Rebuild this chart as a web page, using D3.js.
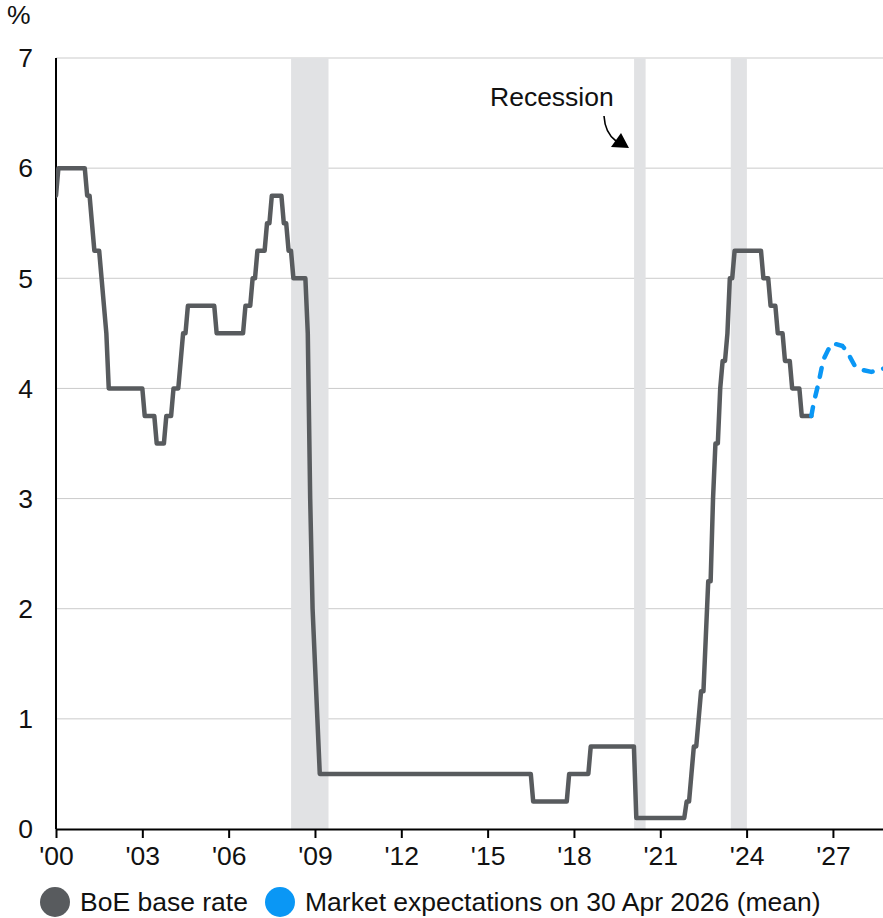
<!DOCTYPE html>
<html>
<head>
<meta charset="utf-8">
<script src="https://cdn.jsdelivr.net/npm/d3@7"></script>
<style>
  html, body { margin: 0; padding: 0; background: #ffffff; }
  svg { display: block; font-family: "Liberation Sans", Arial, Helvetica, sans-serif; }
</style>
</head>
<body>
<svg id="chart" width="883" height="918"></svg>
<script>
// ---------------- DATA ----------------
// BoE base rate, end-of-month values (%), one row per year, Jan..Dec
const rateYears = [2000, 2001, 2002, 2003, 2004, 2005, 2006, 2007, 2008, 2009, 2010, 2011, 2012, 2013,
                   2014, 2015, 2016, 2017, 2018, 2019, 2020, 2021, 2022, 2023, 2024, 2025, 2026];
const baseRate = [
  [5.75, 6, 6, 6, 6, 6, 6, 6, 6, 6, 6, 6],
  [6, 5.75, 5.75, 5.5, 5.25, 5.25, 5.25, 5, 4.75, 4.5, 4, 4],
  [4, 4, 4, 4, 4, 4, 4, 4, 4, 4, 4, 4],
  [4, 3.75, 3.75, 3.75, 3.75, 3.75, 3.5, 3.5, 3.5, 3.5, 3.75, 3.75],
  [3.75, 4, 4, 4, 4.25, 4.5, 4.5, 4.75, 4.75, 4.75, 4.75, 4.75],
  [4.75, 4.75, 4.75, 4.75, 4.75, 4.75, 4.75, 4.5, 4.5, 4.5, 4.5, 4.5],
  [4.5, 4.5, 4.5, 4.5, 4.5, 4.5, 4.5, 4.75, 4.75, 4.75, 5, 5],
  [5.25, 5.25, 5.25, 5.25, 5.5, 5.5, 5.75, 5.75, 5.75, 5.75, 5.75, 5.5],
  [5.5, 5.25, 5.25, 5, 5, 5, 5, 5, 5, 4.5, 3, 2],
  [1.5, 1, 0.5, 0.5, 0.5, 0.5, 0.5, 0.5, 0.5, 0.5, 0.5, 0.5],
  [0.5, 0.5, 0.5, 0.5, 0.5, 0.5, 0.5, 0.5, 0.5, 0.5, 0.5, 0.5],
  [0.5, 0.5, 0.5, 0.5, 0.5, 0.5, 0.5, 0.5, 0.5, 0.5, 0.5, 0.5],
  [0.5, 0.5, 0.5, 0.5, 0.5, 0.5, 0.5, 0.5, 0.5, 0.5, 0.5, 0.5],
  [0.5, 0.5, 0.5, 0.5, 0.5, 0.5, 0.5, 0.5, 0.5, 0.5, 0.5, 0.5],
  [0.5, 0.5, 0.5, 0.5, 0.5, 0.5, 0.5, 0.5, 0.5, 0.5, 0.5, 0.5],
  [0.5, 0.5, 0.5, 0.5, 0.5, 0.5, 0.5, 0.5, 0.5, 0.5, 0.5, 0.5],
  [0.5, 0.5, 0.5, 0.5, 0.5, 0.5, 0.5, 0.25, 0.25, 0.25, 0.25, 0.25],
  [0.25, 0.25, 0.25, 0.25, 0.25, 0.25, 0.25, 0.25, 0.25, 0.25, 0.5, 0.5],
  [0.5, 0.5, 0.5, 0.5, 0.5, 0.5, 0.5, 0.75, 0.75, 0.75, 0.75, 0.75],
  [0.75, 0.75, 0.75, 0.75, 0.75, 0.75, 0.75, 0.75, 0.75, 0.75, 0.75, 0.75],
  [0.75, 0.75, 0.1, 0.1, 0.1, 0.1, 0.1, 0.1, 0.1, 0.1, 0.1, 0.1],
  [0.1, 0.1, 0.1, 0.1, 0.1, 0.1, 0.1, 0.1, 0.1, 0.1, 0.1, 0.25],
  [0.25, 0.5, 0.75, 0.75, 1, 1.25, 1.25, 1.75, 2.25, 2.25, 3, 3.5],
  [3.5, 4, 4.25, 4.25, 4.5, 5, 5, 5.25, 5.25, 5.25, 5.25, 5.25],
  [5.25, 5.25, 5.25, 5.25, 5.25, 5.25, 5.25, 5, 5, 5, 4.75, 4.75],
  [4.75, 4.5, 4.5, 4.5, 4.25, 4.25, 4.25, 4, 4, 4, 4, 3.75],
  [3.75, 3.75, 3.75, 3.75]
];

// Market expectations (mean) on 30 Apr 2026
const forecastDates = ["2026-04", "2026-05", "2026-07", "2026-09", "2026-11", "2027-01",
                       "2027-05", "2027-07", "2027-10", "2028-01", "2028-05", "2028-10"];
const forecastValues = [3.75, 3.87, 4.05, 4.26, 4.35, 4.41, 4.385, 4.33, 4.21, 4.17, 4.15, 4.18];

// Recession periods (start, end) as decimal years
const recessionStart = [2008.17, 2020.09, 2023.45];
const recessionEnd   = [2009.47, 2020.49, 2024.01];

const xTickYears  = [2000, 2003, 2006, 2009, 2012, 2015, 2018, 2021, 2024, 2027];
const xTickLabels = ["'00", "'03", "'06", "'09", "'12", "'15", "'18", "'21", "'24", "'27"];
const yTickValues = [0, 1, 2, 3, 4, 5, 6, 7];

const seriesNames = ["BoE base rate", "Market expectations on 30 Apr 2026 (mean)"];
const seriesColors = ["#585b5e", "#0a97f5"];

// ---------------- CHART ----------------
(function () {
const svg = d3.select("#chart");
const pLeft = 56, pRight = 883, pTop = 58, pBottom = 829;
const fs = 26.5;

const x = d3.scaleLinear().domain([2000, 2028.74]).range([pLeft, pRight]);
const y = d3.scaleLinear().domain([0, 7]).range([pBottom, pTop]);

const toDec = s => { const [yy, mm] = s.split("-").map(Number); return yy + (mm - 1) / 12; };

const basePts = [];
rateYears.forEach((yr, i) => baseRate[i].forEach((v, m) => basePts.push({ t: yr + m / 12, v })));
const fcPts = forecastDates.map((d, i) => ({ t: toDec(d), v: forecastValues[i] }));

svg.append("defs").append("clipPath").attr("id", "plotClip")
  .append("rect").attr("x", pLeft).attr("y", 0).attr("width", pRight - pLeft).attr("height", pBottom + 5);

// gridlines
svg.append("g").selectAll("line").data(yTickValues.filter(d => d > 0)).join("line")
  .attr("x1", pLeft).attr("x2", pRight)
  .attr("y1", d => y(d)).attr("y2", d => y(d))
  .attr("stroke", "#cbcbcb").attr("stroke-width", 1);

// recession bands
svg.append("g").selectAll("rect").data(recessionStart.map((s, i) => [s, recessionEnd[i]])).join("rect")
  .attr("x", d => x(d[0])).attr("width", d => x(d[1]) - x(d[0]))
  .attr("y", pTop).attr("height", pBottom - pTop)
  .attr("fill", "#e1e2e4");

// y labels
svg.append("g").selectAll("text").data(yTickValues).join("text")
  .attr("x", 33).attr("y", d => y(d)).attr("dy", "0.35em")
  .attr("text-anchor", "end").attr("font-size", fs).attr("fill", "#111")
  .text(d => d);

svg.append("text").attr("x", 7).attr("y", 24).attr("font-size", fs).attr("fill", "#111").text("%");

// x axis
const xAxis = d3.axisBottom(x).tickValues(xTickYears)
  .tickFormat((d, i) => xTickLabels[i]).tickSize(9).tickPadding(8).tickSizeOuter(0);
const gx = svg.append("g").attr("transform", `translate(0,${pBottom})`).call(xAxis);
gx.select(".domain").attr("stroke", "#000").attr("stroke-width", 2);
gx.selectAll(".tick line").attr("stroke", "#000").attr("stroke-width", 2);
gx.selectAll(".tick text").attr("font-size", fs).attr("fill", "#111")
  .attr("font-family", '"Liberation Sans", Arial, sans-serif');

// y axis line
svg.append("line").attr("x1", pLeft).attr("x2", pLeft).attr("y1", pTop).attr("y2", pBottom)
  .attr("stroke", "#000").attr("stroke-width", 2);

// lines
const line = d3.line().x(d => x(d.t)).y(d => y(d.v));
const gl = svg.append("g").attr("clip-path", "url(#plotClip)");
gl.append("path").datum(basePts).attr("d", line)
  .attr("fill", "none").attr("stroke", seriesColors[0]).attr("stroke-width", 4.5)
  .attr("stroke-linejoin", "round").attr("stroke-linecap", "round");
gl.append("path").datum(fcPts).attr("d", line)
  .attr("fill", "none").attr("stroke", seriesColors[1]).attr("stroke-width", 4.5)
  .attr("stroke-linejoin", "round").attr("stroke-linecap", "round")
  .attr("stroke-dasharray", "9,11");

// recession annotation
svg.append("text").attr("x", 490).attr("y", 106).attr("font-size", fs).attr("fill", "#111").text("Recession");
svg.append("path").attr("d", "M604,116 Q605,133 616,141")
  .attr("fill", "none").attr("stroke", "#000").attr("stroke-width", 1.6);
svg.append("path").attr("d", "M611,147 L629,148 L621,133 Z").attr("fill", "#000");

// legend
const legendX = [55, 280];
const lg = svg.append("g");
seriesNames.forEach((name, i) => {
  lg.append("circle").attr("cx", legendX[i]).attr("cy", 902).attr("r", 15).attr("fill", seriesColors[i]);
  lg.append("text").attr("x", legendX[i] + 25).attr("y", 911).attr("font-size", fs).attr("fill", "#111").text(name);
});
})();
</script>
</body>
</html>
